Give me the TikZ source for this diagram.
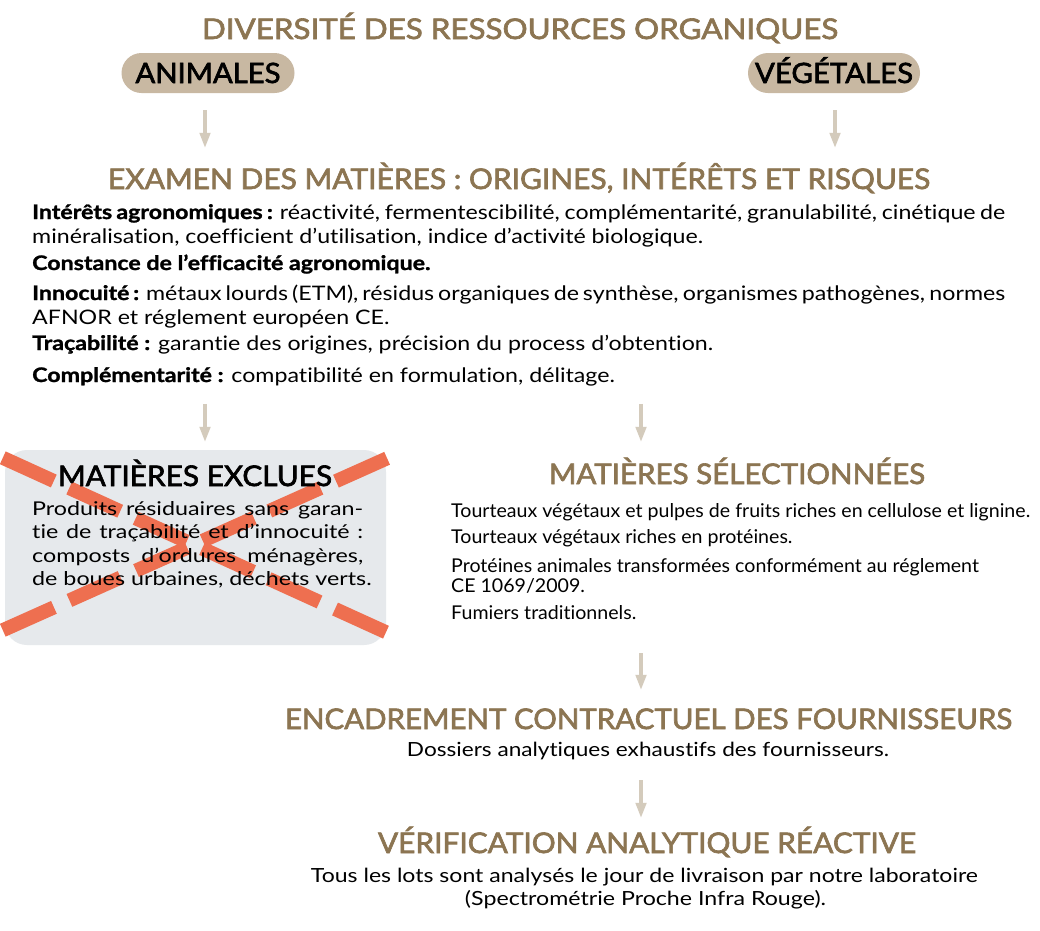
\documentclass[tikz,border=0pt]{standalone}
\usepackage{fontspec}
\usepackage{graphicx}
\setmainfont{Lato}[Ligatures={NoCommon},BoldFeatures={FakeBold=1.2}]
\newfontfamily\titlefont{Lato}[FakeBold=2.2,Ligatures={NoCommon}]
\usetikzlibrary{arrows.meta}
\definecolor{brownt}{HTML}{8C7552}
\definecolor{pillc}{HTML}{C8B8A2}
\definecolor{arrc}{HTML}{D4CBBC}
\definecolor{boxc}{HTML}{E6E9EC}
\definecolor{redx}{HTML}{EE6F50}
\newcommand\fitw[2]{\resizebox{#1}{\height}{#2}}
\newlength\natw
\newlength\innerwa
\newlength\innerwb
\AtBeginDocument{%
\settowidth\natw{\fontsize{20}{24}\selectfont\textbf{Traçabilité :} garantie des origines, précision du process d’obtention.}%
\pgfmathsetmacro\sxa{681/\natw}%
\pgfmathsetlength\innerwa{973/\sxa}%
\settowidth\natw{\fontsize{19}{23.5}\selectfont tie de traçabilité et d’innocuité :}%
\pgfmathsetmacro\sxb{322/\natw}%
\pgfmathsetlength\innerwb{331/\sxb}%
\settowidth\natw{\fontsize{19}{24}\selectfont Tourteaux végétaux et pulpes de fruits riches en cellulose et lignine.}%
\pgfmathsetmacro\sxc{579/\natw}%
}
\tikzset{
  title/.style={inner sep=0pt, anchor=base, text=brownt, text height=21pt, text depth=0pt,
    font=\titlefont\fontsize{28.5}{30}\selectfont},
  pill/.style={fill=pillc, rounded corners=20pt, minimum height=40pt, inner sep=0pt,
    text height=20pt, text depth=0pt, font=\titlefont\fontsize{28}{30}\selectfont},
  arr/.style={draw=arrc, line width=3.2pt, -{Triangle[width=10.5pt,length=15pt]}},
  xbox/.style={fill=boxc, rounded corners=22pt, minimum width=381pt, minimum height=195pt, inner sep=0pt},
  redline/.style={draw=redx, line width=14pt, dash pattern=on 56pt off 17pt},
  sub/.style={inner sep=0pt, anchor=base, text height=14pt, text depth=5pt,
    font=\fontsize{19.5}{22}\selectfont},
  para/.style={inner sep=0pt, anchor=base west}
}
\begin{document}
\begin{tikzpicture}[x=1pt,y=-1pt]
\fill[white] (0,0) rectangle (1040,930);
\useasboundingbox (0,0) rectangle (1040,930);

\coordinate (colL) at (205,0);
\coordinate (colR) at (641,0);

% top
\node[title] (div) at (520,39) {\fitw{636pt}{DIVERSITÉ DES RESSOURCES ORGANIQUES}};
\node[pill, minimum width=173pt] (anim) at (208,73) {\fitw{145pt}{ANIMALES}};
\node[pill, minimum width=172pt] (veg) at (834,73) {\fitw{158pt}{VÉGÉTALES}};

\node[title] (exam) at (519,189) {\fitw{822pt}{EXAMEN DES MATIÈRES : ORIGINES, INTÉRÊTS ET RISQUES}};

\draw[arr, shorten <=17pt, shorten >=20pt] ([xshift=-3pt]anim.south) -- ([xshift=-3pt]anim.south |- exam.north);
\draw[arr, shorten <=17pt, shorten >=20pt] ([xshift=1pt]veg.south) -- ([xshift=1pt]veg.south |- exam.north);

\node[para] (body) at (32,219) {\fontsize{20}{24}\selectfont\scalebox{\sxa}[1]{\vtop{\lineskiplimit=-100pt\lineskip=0pt\baselineskip=24pt
\hbox to\innerwa{\textbf{Intérêts agronomiques :} réactivité, fermentescibilité, complémentarité, granulabilité, cinétique de}
\hbox{minéralisation, coefficient d’utilisation, indice d’activité biologique.}
\vskip3pt
\hbox{\textbf{Constance de l’efficacité agronomique.}}
\vskip6pt
\hbox to\innerwa{\textbf{Innocuité :} métaux lourds (ETM), résidus organiques de synthèse, organismes pathogènes, normes}
\hbox{AFNOR et réglement européen CE.}
\vskip2pt
\hbox{\textbf{Traçabilité :} garantie des origines, précision du process d’obtention.}
\vskip8pt
\hbox{\textbf{Complémentarité :} compatibilité en formulation, délitage.}}}};

% excluded
\node[xbox] (box) at (195.5,547.5) {};
\draw[redline] ([shift={(-2,8)}]box.north west) -- ([shift={(2,-12)}]box.south east);
\draw[redline] ([shift={(-2,-15)}]box.south west) -- ([shift={(2,8)}]box.north east);
\node[title, text=black] (exct) at (195,486) {\fitw{274pt}{MATIÈRES EXCLUES}};
\node[para] (excb) at (32,515) {\fontsize{19}{23.5}\selectfont\scalebox{\sxb}[1]{\vtop{\lineskiplimit=-100pt\lineskip=0pt\baselineskip=23.5pt
\hbox to\innerwb{Produits résiduaires sans garan-}
\hbox to\innerwb{tie de traçabilité et d’innocuité :}
\hbox to\innerwb{composts d’ordures ménagères,}
\hbox{de boues urbaines, déchets verts.}}}};

\draw[arr, shorten <=18pt, shorten >=8pt] (colL |- body.south) -- (colL |- box.north);

% selected
\node[title] (selt) at (737,484) {\fitw{376pt}{MATIÈRES SÉLECTIONNÉES}};
\node[para] (selb) at (451,517) {\fontsize{19}{24}\selectfont\scalebox{\sxc}[1]{\vtop{\lineskiplimit=-100pt\lineskip=0pt\baselineskip=24pt
\hbox{Tourteaux végétaux et pulpes de fruits riches en cellulose et lignine.}
\vskip2pt
\hbox{Tourteaux végétaux riches en protéines.}
\vskip5pt
\hbox{Protéines animales transformées conformément au réglement}
\vskip-4pt
\hbox{CE 1069/2009.}
\vskip3pt
\hbox{Fumiers traditionnels.}}}};

\draw[arr, shorten <=18pt, shorten >=21pt] (colR |- body.south) -- (colR |- selt.north);

% contract
\node[title] (enct) at (648.5,729) {\fitw{727pt}{ENCADREMENT CONTRACTUEL DES FOURNISSEURS}};
\node[sub] (doss) at (648,756) {\fitw{482pt}{Dossiers analytiques exhaustifs des fournisseurs.}};
\draw[arr, shorten <=34pt, shorten >=18pt] (colR |- selb.south) -- (colR |- enct.north);

% verification
\node[title] (vert) at (647,853) {\fitw{538pt}{VÉRIFICATION ANALYTIQUE RÉACTIVE}};
\node[sub] (tous) at (644.5,882) {\fitw{667pt}{Tous les lots sont analysés le jour de livraison par notre laboratoire}};
\node[sub] (spec) at (645.5,905) {\fitw{361pt}{(Spectrométrie Proche Infra Rouge).}};
\draw[arr, shorten <=19pt, shorten >=14pt] (colR |- doss.south) -- (colR |- vert.north);
\end{tikzpicture}
\end{document}
